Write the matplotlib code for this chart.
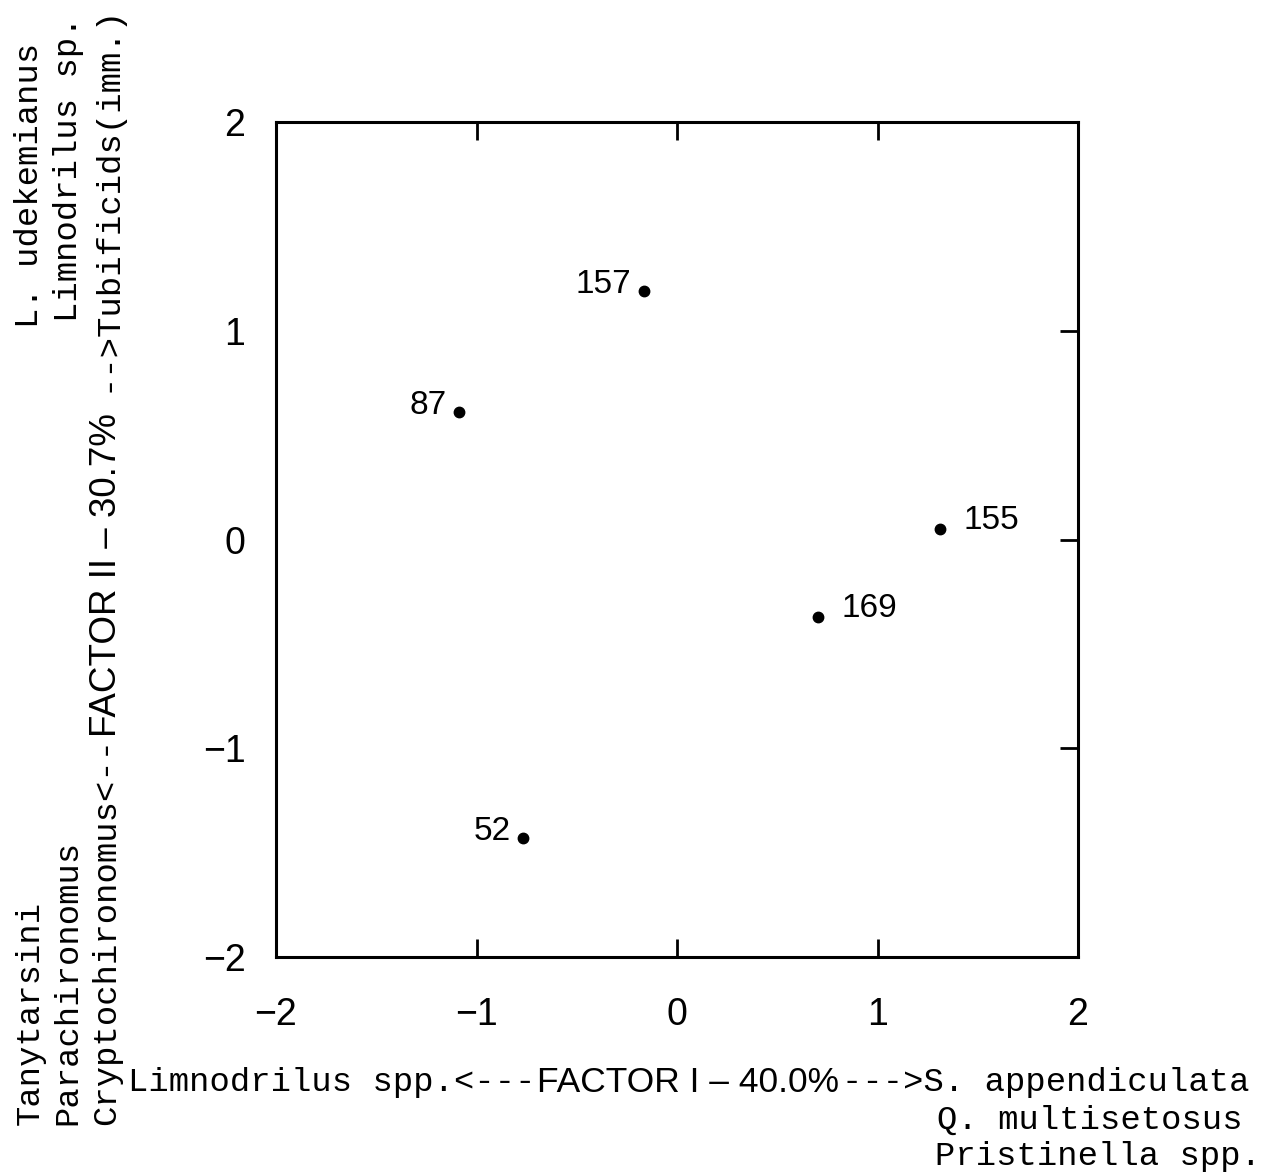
import matplotlib.pyplot as plt

# factor scores of the stations
stations = ["157", "87", "155", "169", "52"]
factor1 = [-0.165, -1.087, 1.312, 0.703, -0.768]
factor2 = [1.19, 0.61, 0.05, -0.37, -1.43]
label_side = ["left", "left", "right", "right", "left"]

ticks = [-2, -1, 0, 1, 2]
tick_labels = ["\u22122", "\u22121", "0", "1", "2"]

W, H = 1267, 1172
mono = "Liberation Mono"
sans = "Liberation Sans"

fig = plt.figure(figsize=(W / 100, H / 100), dpi=100)
ax = fig.add_axes([276 / W, 1 - 957 / H, 802 / W, 835 / H])

ax.plot(factor1, factor2, "o", color="black", markersize=7.5, linestyle="none")
for name, x, y, side in zip(stations, factor1, factor2, label_side):
    if side == "left":
        ax.annotate(name, (x, y), xytext=(-9, -1.5), textcoords="offset points",
                    ha="right", va="baseline", fontsize=24, family=sans)
    else:
        ax.annotate(name, (x, y), xytext=(17, 0), textcoords="offset points",
                    ha="left", va="baseline", fontsize=24, family=sans)

ax.set_xlim(-2, 2)
ax.set_ylim(-2, 2)
ax.set_xticks(ticks)
ax.set_yticks(ticks)
ax.set_xticklabels(tick_labels, family=sans, fontsize=27)
ax.set_yticklabels(tick_labels, family=sans, fontsize=27)
ax.tick_params(axis="x", direction="in", top=True, bottom=True, length=13,
               width=2, pad=29)
ax.tick_params(axis="y", direction="in", left=False, right=True, length=13,
               width=2, pad=22)
for s in ax.spines.values():
    s.set_linewidth(2.2)


def ftext(x, y, s, **kw):
    return fig.text(x / W, 1 - y / H, s, **kw)


# bottom axis label
ftext(128, 1083, "Limnodrilus spp.<---", family=mono, fontsize=24.4,
      ha="left", va="center")
ftext(537, 1083, "FACTOR I \u2013 40.0%", family=sans, fontsize=25.5,
      ha="left", va="center")
ftext(1250, 1083, "--->S. appendiculata", family=mono, fontsize=24.4,
      ha="right", va="center")
ftext(937, 1120, "Q. multisetosus", family=mono, fontsize=24.4,
      ha="left", va="center")
ftext(935, 1156, "Pristinella spp.", family=mono, fontsize=24.4,
      ha="left", va="center")

# left axis label (rotated)
rot = dict(rotation=90, rotation_mode="anchor", va="center")
ftext(107, 1125, "Cryptochironomus<--", family=mono, fontsize=24.4,
      ha="left", **rot)
ftext(107, 737, "FACTOR II \u2013 30.7%", family=sans, fontsize=26.5,
      ha="left", **rot)
ftext(107, 392, "-->Tubificids(imm.)", family=mono, fontsize=24.4,
      ha="left", **rot)
ftext(68, 1125, "Parachironomus", family=mono, fontsize=24.4,
      ha="left", **rot)
ftext(68, 322, "Limnodrilus sp.", family=mono, fontsize=24.4,
      ha="left", **rot)
ftext(30, 1125, "Tanytarsini", family=mono, fontsize=24.4,
      ha="left", **rot)
ftext(30, 328, "L. udekemianus", family=mono, fontsize=24.4,
      ha="left", **rot)

fig.savefig("out.png", dpi=100)
